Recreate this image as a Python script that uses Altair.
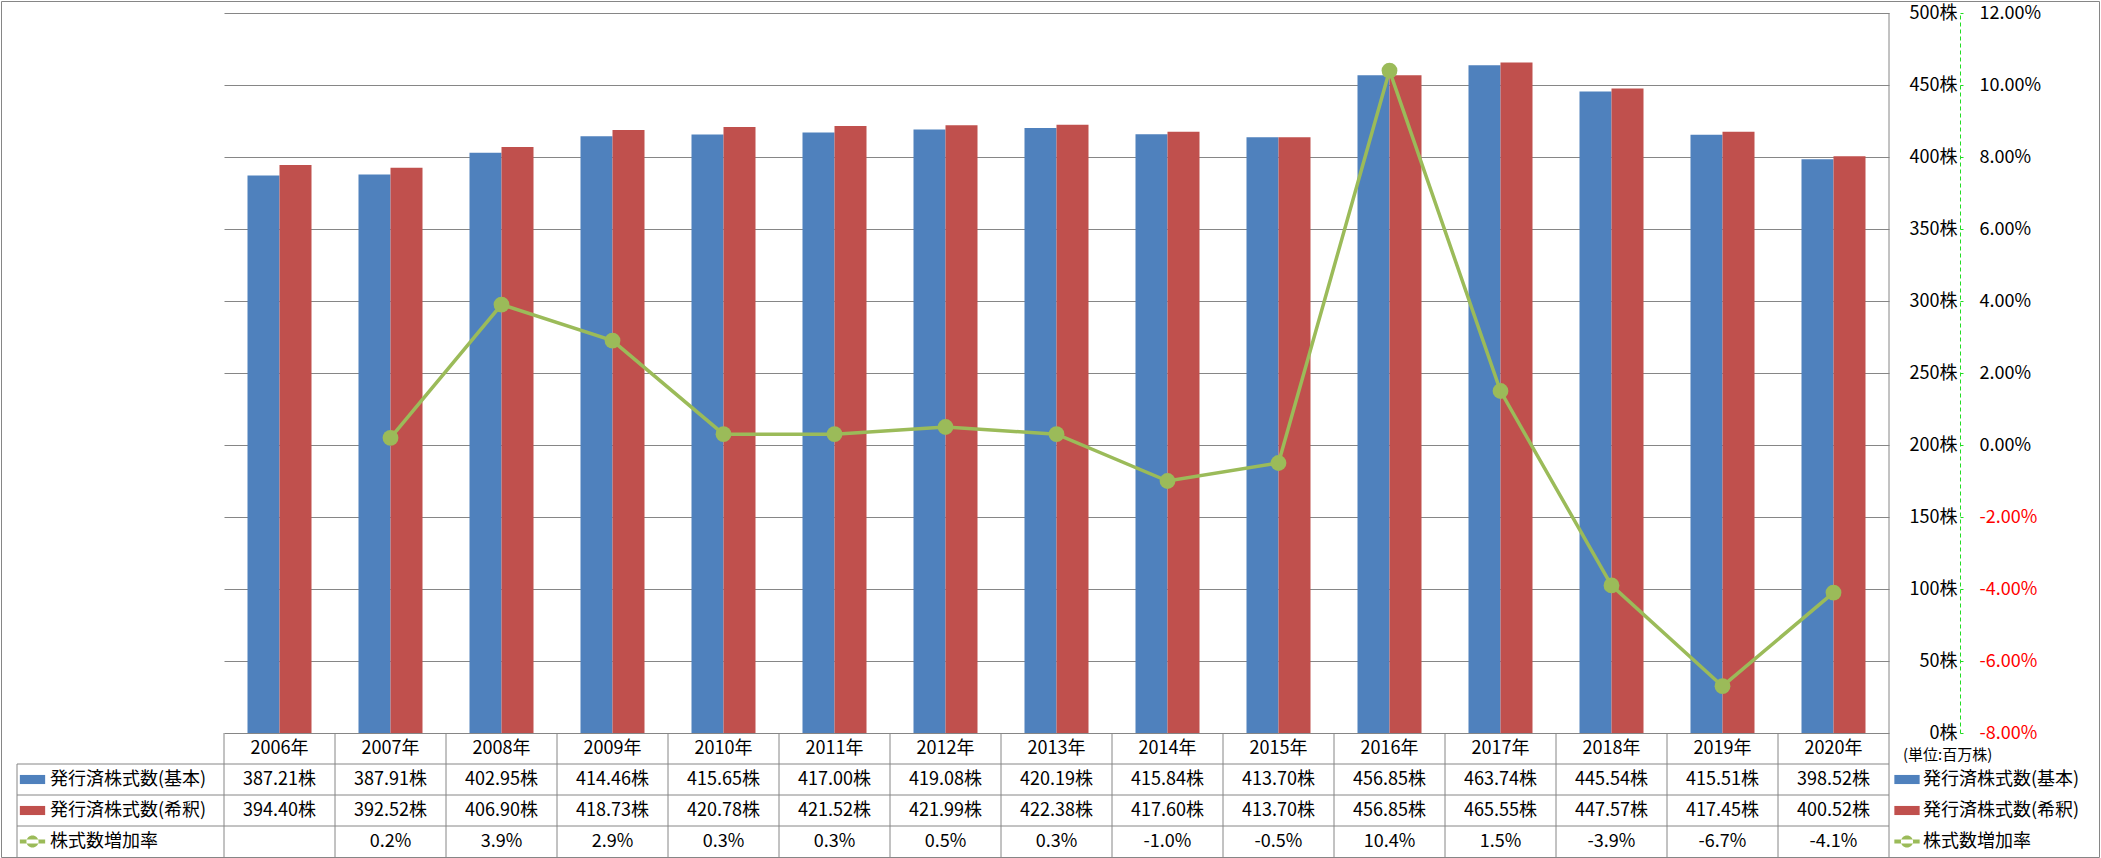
import altair as alt
import pandas as pd

# ---------------- data ----------------
years = ["2006年", "2007年", "2008年", "2009年", "2010年", "2011年", "2012年", "2013年",
         "2014年", "2015年", "2016年", "2017年", "2018年", "2019年", "2020年"]
basic = [387.21, 387.91, 402.95, 414.46, 415.65, 417.00, 419.08, 420.19,
         415.84, 413.70, 456.85, 463.74, 445.54, 415.51, 398.52]
diluted = [394.40, 392.52, 406.90, 418.73, 420.78, 421.52, 421.99, 422.38,
           417.60, 413.70, 456.85, 465.55, 447.57, 417.45, 400.52]
growth_pct = [None, 0.2, 3.9, 2.9, 0.3, 0.3, 0.5, 0.3, -1.0, -0.5, 10.4, 1.5, -3.9, -6.7, -4.1]

S1 = "発行済株式数(基本)"
S2 = "発行済株式数(希釈)"
S3 = "株式数増加率"
unit_label = "(単位:百万株)"

left_ticks = [0, 50, 100, 150, 200, 250, 300, 350, 400, 450, 500]
right_ticks = [-0.08, -0.06, -0.04, -0.02, 0.0, 0.02, 0.04, 0.06, 0.08, 0.10, 0.12]

# ---------------- styles ----------------
BLUE = "#4F81BD"
RED = "#C0504D"
GREEN = "#9BBB59"
GRAY = "#868686"
AXGREEN = "#22DD22"
FONT = "Noto Sans CJK JP"

W = 1665      # plot width
PH = 720      # bar plot height
TH = 124      # table height
H = PH + TH

ROWS = ["hdr", "basic", "diluted", "growth"]

# ---------------- tables ----------------
bar_df = pd.DataFrame({
    "year": years * 2,
    "series": [S1] * len(years) + [S2] * len(years),
    "value": basic + diluted,
})
line_df = pd.DataFrame({
    "year": years,
    "rate": [g / 100 if g is not None else None for g in growth_pct],
})

cells = []
for i, y in enumerate(years):
    cells.append({"year": y, "row": "hdr", "label": y})
    cells.append({"year": y, "row": "basic", "label": f"{basic[i]:.2f}株"})
    cells.append({"year": y, "row": "diluted", "label": f"{diluted[i]:.2f}株"})
    g = growth_pct[i]
    cells.append({"year": y, "row": "growth", "label": "" if g is None else f"{g:.1f}%"})
cell_df = pd.DataFrame(cells)

leg_df = pd.DataFrame({
    "row": ["basic", "diluted", "growth"],
    "name": [S1, S2, S3],
    "col": [BLUE, RED, GREEN],
})

x_scale = alt.Scale(domain=years, paddingInner=0, paddingOuter=0)
x_enc = alt.X("year:N", sort=years, scale=x_scale, axis=None)
table_y = alt.Scale(domain=ROWS, range=[PH, H], paddingInner=0, paddingOuter=0)

# ---------------- bars ----------------
bars = alt.Chart(bar_df).mark_bar().encode(
    x=x_enc,
    xOffset=alt.XOffset("series:N", sort=[S1, S2],
                        scale=alt.Scale(domain=[S1, S2], paddingInner=0, paddingOuter=0.734)),
    y=alt.Y("value:Q",
            scale=alt.Scale(domain=[0, 500], range=[PH, 0], nice=False),
            axis=alt.Axis(orient="right", values=left_ticks, labelExpr="datum.value + '株'",
                          grid=True, gridColor=GRAY, gridWidth=1, domain=False, ticks=False,
                          labelAlign="right", labelBaseline="middle", labelPadding=68,
                          labelFontSize=18, labelColor="black", title=None)),
    color=alt.Color("series:N", scale=alt.Scale(domain=[S1, S2], range=[BLUE, RED]), legend=None),
)

# ---------------- growth line ----------------
y_rate = alt.Y("rate:Q",
               scale=alt.Scale(domain=[-0.08, 0.12], range=[PH, 0], nice=False, zero=False),
               axis=alt.Axis(orient="right", offset=71, values=right_ticks,
                             labelExpr="replace(format(datum.value, '.2%'), '\u2212', '-')",
                             grid=False, domain=True, domainColor=AXGREEN, domainDash=[4, 3],
                             domainWidth=1, ticks=True, tickColor=AXGREEN, tickSize=3,
                             labelPadding=16, labelAlign="left", labelBaseline="middle",
                             labelFontSize=18,
                             labelColor=alt.condition("datum.value < 0", alt.value("#FF0000"),
                                                      alt.value("black")),
                             title=None))
line = alt.Chart(line_df).mark_line(color=GREEN, strokeWidth=3.5).encode(x=x_enc, y=y_rate)
pts = alt.Chart(line_df).mark_circle(color=GREEN, size=250, opacity=1).encode(x=x_enc, y=y_rate)
line_layer = alt.layer(line, pts)

# ---------------- data table ----------------
cell_text = alt.Chart(cell_df).mark_text(fontSize=18, color="black", baseline="middle",
                                         align="center", font=FONT).encode(
    x=x_enc,
    y=alt.Y("row:N", scale=table_y, axis=None),
    text="label:N",
)

vrules = alt.Chart(pd.DataFrame({"year": years})).mark_rule(color=GRAY, strokeWidth=1).encode(
    x=alt.X("year:N", sort=years, scale=x_scale, axis=None, bandPosition=0),
    y=alt.value(PH), y2=alt.value(H),
)
hrules = alt.Chart(pd.DataFrame({"row": ["basic", "diluted", "growth"]})).mark_rule(
    color=GRAY, strokeWidth=1).encode(
    y=alt.Y("row:N", scale=table_y, axis=None, bandPosition=0),
    x=alt.value(-207), x2=alt.value(W),
)
left_edge = alt.Chart(pd.DataFrame({"row": ["basic"]})).mark_rule(color=GRAY, strokeWidth=1).encode(
    y=alt.Y("row:N", scale=table_y, axis=None, bandPosition=0),
    y2=alt.value(H), x=alt.value(-207),
)
right_edge = alt.Chart(pd.DataFrame({"a": [0]})).mark_rule(color=GRAY, strokeWidth=1).encode(
    x=alt.value(W), y=alt.value(0), y2=alt.value(H),
)

RECT_SHAPE = "M-1,-0.36L1,-0.36L1,0.36L-1,0.36Z"
LINE_SHAPE = ("M-1,-0.15L1,-0.15L1,0.15L-1,0.15Z "
              "M-0.48,0A0.48,0.48 0 1,0 0.48,0A0.48,0.48 0 1,0 -0.48,0Z")

def legend_block(text_x, sym_x):
    txt = alt.Chart(leg_df).mark_text(fontSize=18, color="black", baseline="middle",
                                      align="left", font=FONT).encode(
        x=alt.value(text_x), y=alt.Y("row:N", scale=table_y, axis=None), text="name:N")
    sq = alt.Chart(leg_df[leg_df.row != "growth"]).mark_point(
        shape=RECT_SHAPE, size=640, filled=True, opacity=1, strokeWidth=0).encode(
        x=alt.value(sym_x), y=alt.Y("row:N", scale=table_y, axis=None),
        color=alt.Color("col:N", scale=None))
    ln = alt.Chart(leg_df[leg_df.row == "growth"]).mark_point(
        shape=LINE_SHAPE, size=640, filled=True, opacity=1, strokeWidth=0).encode(
        x=alt.value(sym_x), y=alt.Y("row:N", scale=table_y, axis=None),
        color=alt.Color("col:N", scale=None))
    return [txt, sq, ln]

left_leg = legend_block(-174, -191.5)
right_leg = legend_block(1699, 1683)

unit = alt.Chart(pd.DataFrame({"t": [unit_label]})).mark_text(
    fontSize=15, color="black", baseline="middle", align="left", font=FONT).encode(
    x=alt.value(1679), y=alt.value(742), text="t:N")

frame = alt.Chart(pd.DataFrame({"a": [0]})).mark_rect(
    fillOpacity=0, stroke=GRAY, strokeWidth=1).encode(
    x=alt.value(-222.5), x2=alt.value(1875.5), y=alt.value(-11.5), y2=alt.value(844.5))

chart = alt.layer(
    frame, bars, line_layer, cell_text, vrules, hrules, left_edge, right_edge,
    *left_leg, *right_leg, unit,
).resolve_scale(
    y="independent"
).properties(
    width=W, height=H,
    autosize=alt.AutoSizeParams(type="none"),
    padding={"left": 224, "top": 13, "right": 212, "bottom": 1},
    background="white",
).configure_view(
    stroke="transparent"
).configure_axis(
    labelFont=FONT
).configure_text(
    font=FONT
)

chart.save("out.html", embed_options={"renderer": "svg", "actions": False})
